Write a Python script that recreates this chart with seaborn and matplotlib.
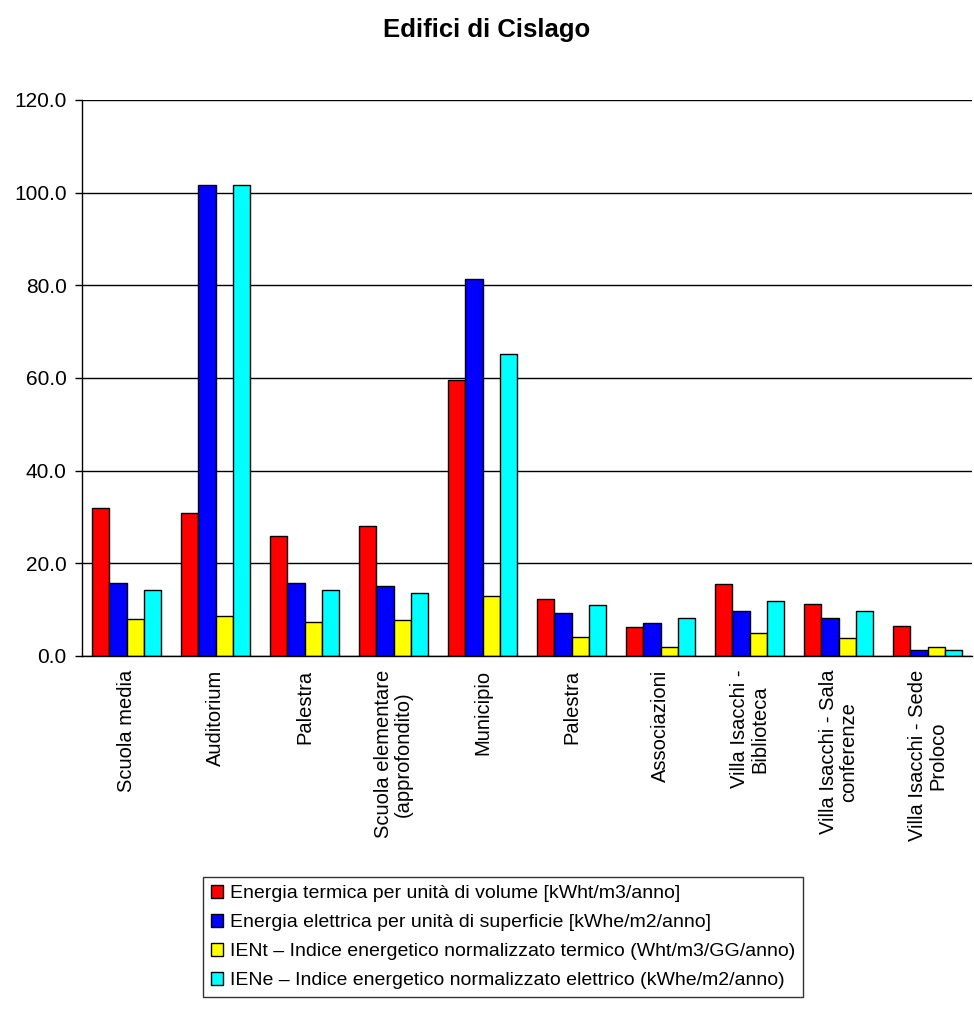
import pandas as pd
import matplotlib.pyplot as plt
import seaborn as sns

sns.set_style("white")
plt.rcParams['font.family'] = ['Liberation Sans', 'DejaVu Sans']
plt.rcParams['text.color'] = 'black'
plt.rcParams['xtick.color'] = 'black'
plt.rcParams['ytick.color'] = 'black'

# Data
edifici = ['Scuola media', 'Auditorium', 'Palestra', 'Scuola elementare\n(approfondito)',
           'Municipio', 'Palestra', 'Associazioni', 'Villa Isacchi -\nBiblioteca',
           'Villa Isacchi - Sala\nconferenze', 'Villa Isacchi - Sede\nProloco']
termica = [31.9, 30.8, 25.9, 28.1, 59.5, 12.3, 6.2, 15.5, 11.2, 6.5]
elettrica = [15.8, 101.7, 15.8, 15.1, 81.3, 9.2, 7.1, 9.8, 8.3, 1.4]
ient = [8.0, 8.6, 7.3, 7.7, 13.0, 4.1, 2.0, 5.0, 3.8, 2.0]
iene = [14.2, 101.7, 14.2, 13.7, 65.2, 11.0, 8.3, 11.9, 9.8, 1.4]

serie = ['Energia termica per unità di volume [kWht/m3/anno]',
         'Energia elettrica per unità di superficie [kWhe/m2/anno]',
         'IENt – Indice energetico normalizzato termico (Wht/m3/GG/anno)',
         'IENe – Indice energetico normalizzato elettrico (kWhe/m2/anno)']
colori = ['#ff0000', '#0000ff', '#ffff00', '#00ffff']

rows = []
for s, vals in zip(serie, [termica, elettrica, ient, iene]):
    for i, v in enumerate(vals):
        rows.append({'idx': i, 'serie': s, 'valore': v})
df = pd.DataFrame(rows)

fig = plt.figure(figsize=(9.74, 10.1), dpi=100)
ax = fig.add_axes([0.0842, 0.3505, 0.9138, 0.5505])

sns.barplot(data=df, x='idx', y='valore', hue='serie', hue_order=serie,
            palette=colori, width=0.77, gap=0, edgecolor='black', linewidth=1,
            saturation=1, ax=ax, legend=True)

ax.set_ylim(0, 120)
ax.set_xlim(-0.5, len(edifici) - 0.5)
ax.set_yticks(range(0, 121, 20))
ax.set_yticklabels([f'{v:.1f}' for v in range(0, 121, 20)], fontsize=15)
ax.yaxis.grid(True, color='black', linewidth=1)
ax.set_axisbelow(True)
ax.set_xticks(range(len(edifici)))
ax.set_xticklabels(edifici, rotation=90, fontsize=14.5, ha='center', va='top',
                   multialignment='center', linespacing=1.05)
ax.set_xticks([i - 0.5 for i in range(len(edifici) + 1)], minor=True)
ax.tick_params(axis='x', which='major', length=0, pad=10)
ax.tick_params(axis='x', which='minor', length=6, width=1, color='black', direction='out')
ax.tick_params(axis='y', length=5, width=1, color='black', direction='out', left=True, pad=6)
ax.set_xlabel('')
ax.set_ylabel('')
for side in ['top', 'right']:
    ax.spines[side].set_visible(False)
for side in ['left', 'bottom']:
    ax.spines[side].set_color('black')
    ax.spines[side].set_linewidth(1)

fig.suptitle('Edifici di Cislago', fontsize=18.5, fontweight='bold', y=0.982)

handles, labels = ax.get_legend_handles_labels()
ax.get_legend().remove()
leg = fig.legend(handles, labels, loc='upper left', bbox_to_anchor=(203 / 974, 1 - 877 / 1010),
                 fontsize=14, frameon=True, fancybox=False, edgecolor='black',
                 handlelength=0.65, handleheight=0.65, handletextpad=0.35,
                 labelspacing=0.6, borderpad=0.4, borderaxespad=0)
leg.get_frame().set_linewidth(1)

fig.savefig('out.png', dpi=100)
